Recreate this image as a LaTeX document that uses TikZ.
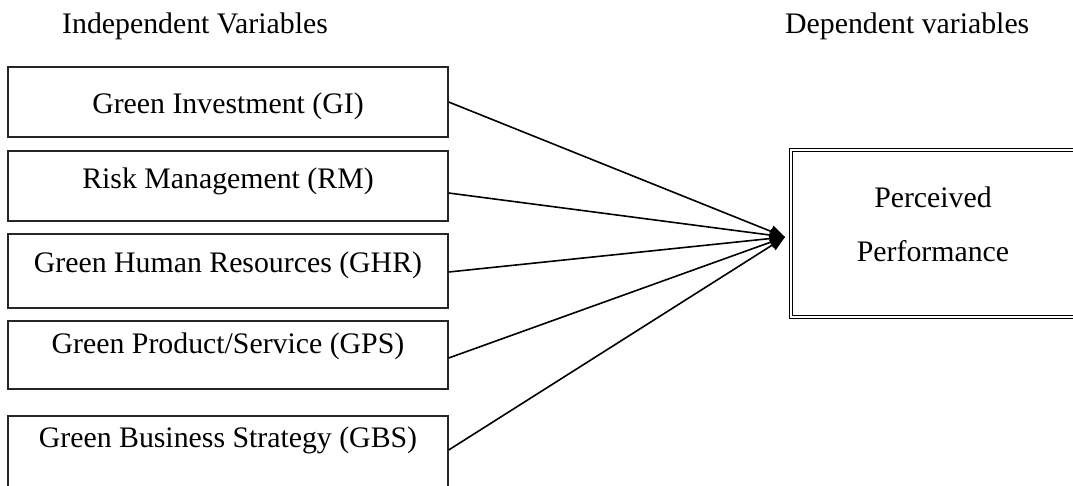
\documentclass[tikz,border=0pt]{standalone}
\usepackage{fontspec}
\setmainfont{Liberation Serif}
\usetikzlibrary{arrows.meta}
\begin{document}
\begin{tikzpicture}[x=1pt,y=-1pt,
  box/.style={draw=black!85,line width=1.3pt,minimum width=440pt,inner sep=0pt},
  lbl/.style={font=\fontsize{29.8}{36}\selectfont,inner sep=0pt,anchor=base},
  ttl/.style={font=\fontsize{29.8}{36}\selectfont,inner sep=0pt,anchor=base west},
  dep/.style={draw=black,line width=1pt,double=white,double distance=2pt,minimum width=286pt,minimum height=167pt,inner sep=0pt},
  conn/.style={line width=1.6pt,-{Triangle[length=15pt,width=12pt]}}]
\useasboundingbox (0,0) rectangle (1073,485);
\begin{scope}
\clip (0,0) rectangle (1073,485);
% titles
\node[ttl] (tin) at (62,33) {Independent Variables};
\node[ttl] (tdep) at (785,33) {Dependent variables};
% independent boxes
\node[box,minimum height=70pt] (b1) at (228,102) {};
\node[box,minimum height=70pt] (b2) at (228,186) {};
\node[box,minimum height=74pt] (b3) at (228,271) {};
\node[box,minimum height=68pt] (b4) at (228,355) {};
\node[box,minimum height=74pt] (b5) at (228,453) {};
\node[lbl] (l1) at (228,113) {Green Investment (GI)};
\node[lbl] (l2) at (228,188) {Risk Management (RM)};
\node[lbl] (l3) at (228,272) {Green Human Resources (GHR)};
\node[lbl] (l4) at (228,353) {Green Product/Service (GPS)};
\node[lbl] (l5) at (228,447) {Green Business Strategy (GBS)};
% dependent box
\node[dep] (pp) at (934,233.5) {};
\node[lbl] (p1) at (933,207) {Perceived};
\node[lbl] (p2) at (933,261) {Performance};
\coordinate (tip) at (785,237);
% connectors
\draw[conn] (b1.east) -- (tip);
\draw[conn] ([yshift=-7pt]b2.east) -- (tip);
\draw[conn] ([yshift=-1pt]b3.east) -- (tip);
\draw[conn] ([yshift=-3pt]b4.east) -- (tip);
\draw[conn] ([yshift=3pt]b5.east) -- (tip);
\end{scope}
\end{tikzpicture}
\end{document}
